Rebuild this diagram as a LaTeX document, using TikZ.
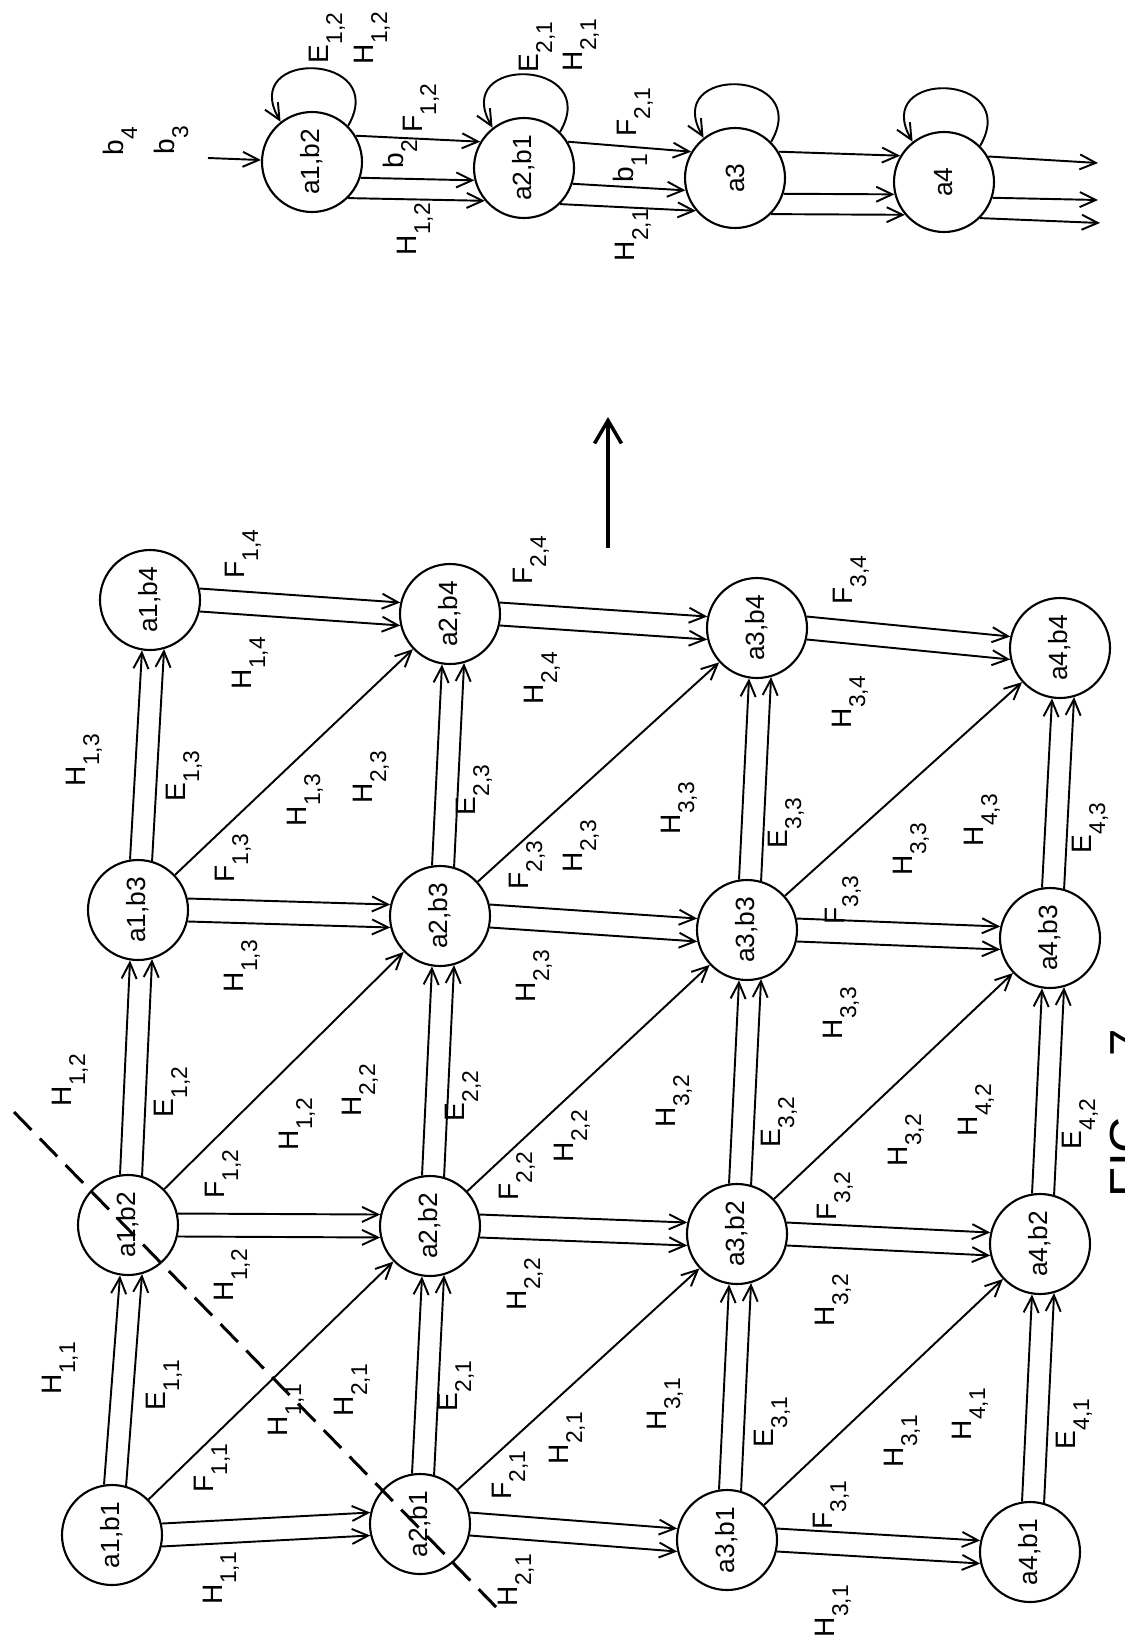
\documentclass[tikz,border=0pt]{standalone}
\usepackage{fontspec}
\setmainfont{Liberation Sans}
\usetikzlibrary{arrows.meta}
\newcommand{\cost}[2]{#1\raisebox{-2.8mm}{\fontsize{13}{15}\selectfont #2}}
\newcommand{\lab}{\fontsize{16}{19}\selectfont}
% double arrows: a_i -> a_i+1 and b_j -> b_j+1
\newcommand{\across}[2]{\draw[arr] (#1.-77) -- (#2.77); \draw[arr] (#1.-103) -- (#2.103);}
\newcommand{\along}[2]{\draw[arr] (#1.9) -- (#2.171); \draw[arr] (#1.-16) -- (#2.-164);}
% three arrows of the reduced chain
\newcommand{\triple}[2]{\draw[arr] (#1.-59) -- (#2.59); \draw[arr] (#1.-108) -- (#2.104); \draw[arr] (#1.-135) -- (#2.130);}
\newcommand{\selfloop}[1]{\draw[arr] (#1.-45) .. controls +(60:85) and +(120:85) .. (#1.38);}

\begin{document}
\begin{tikzpicture}[x=0.2mm, y=0.2mm,
    state/.style={circle, draw, line width=1.2pt, minimum size=20mm, inner sep=0pt, rotate=90,
      font=\fontsize{15}{18}\selectfont},
    tag/.style={rotate=90, inner sep=1pt, font=\lab},
    arr/.style={-{Straight Barb[length=3.2mm,width=3mm]}, line width=1.1pt},
    cut/.style={line width=1.7pt, dash pattern=on 5mm off 2.4mm}]
  \path[use as bounding box, fill=white] (0,0) rectangle (1124,-1643);

  % Define nodes
  \node[state] (a1b1) at (112,-1535) {a1,b1};
  \node[state] (a2b1) at (420,-1524) {a2,b1};
  \node[state] (a3b1) at (727,-1540) {a3,b1};
  \node[state] (a4b1) at (1030,-1552) {a4,b1};
  \node[state] (a1b2) at (128,-1225) {a1,b2};
  \node[state] (a2b2) at (430,-1226) {a2,b2};
  \node[state] (a3b2) at (737,-1234) {a3,b2};
  \node[state] (a4b2) at (1040,-1244) {a4,b2};
  \node[state] (a1b3) at (138,-910) {a1,b3};
  \node[state] (a2b3) at (440,-916) {a2,b3};
  \node[state] (a3b3) at (747,-930) {a3,b3};
  \node[state] (a4b3) at (1050,-938) {a4,b3};
  \node[state] (a1b4) at (150,-600) {a1,b4};
  \node[state] (a2b4) at (450,-614) {a2,b4};
  \node[state] (a3b4) at (757,-628) {a3,b4};
  \node[state] (a4b4) at (1060,-648) {a4,b4};

  \node[state] (p1) at (312,-162) {a1,b2};
  \node[state] (p2) at (524,-168) {a2,b1};
  \node[state] (p3) at (735,-178) {a3};
  \node[state] (p4) at (944,-182) {a4};

  \coordinate (in) at (208,-158);
  \coordinate (out1) at (1098,-163);
  \coordinate (out2) at (1098,-200);
  \coordinate (out3) at (1100,-223);
  \coordinate (cutA) at (14,-1112);
  \coordinate (cutB) at (497,-1608);
  \coordinate (dirA) at (608,-548);
  \coordinate (dirB) at (608,-417);

  % Connect the nodes
  \across{a1b1}{a2b1} \across{a2b1}{a3b1} \across{a3b1}{a4b1}
  \across{a1b2}{a2b2} \across{a2b2}{a3b2} \across{a3b2}{a4b2}
  \across{a1b3}{a2b3} \across{a2b3}{a3b3} \across{a3b3}{a4b3}
  \across{a1b4}{a2b4} \across{a2b4}{a3b4} \across{a3b4}{a4b4}
  \along{a1b1}{a1b2} \along{a1b2}{a1b3} \along{a1b3}{a1b4}
  \along{a2b1}{a2b2} \along{a2b2}{a2b3} \along{a2b3}{a2b4}
  \along{a3b1}{a3b2} \along{a3b2}{a3b3} \along{a3b3}{a3b4}
  \along{a4b1}{a4b2} \along{a4b2}{a4b3} \along{a4b3}{a4b4}
  \draw[arr] (a1b1) -- (a2b2);
  \draw[arr] (a1b2) -- (a2b3);
  \draw[arr] (a1b3) -- (a2b4);
  \draw[arr] (a2b1) -- (a3b2);
  \draw[arr] (a2b2) -- (a3b3);
  \draw[arr] (a2b3) -- (a3b4);
  \draw[arr] (a3b1) -- (a4b2);
  \draw[arr] (a3b2) -- (a4b3);
  \draw[arr] (a3b3) -- (a4b4);

  \draw[arr] (in) -- (p1);
  \triple{p1}{p2} \triple{p2}{p3} \triple{p3}{p4}
  \draw[arr] (p4.-60) -- (out1);
  \draw[arr] (p4.-108) -- (out2);
  \draw[arr] (p4.-135) -- (out3);
  \selfloop{p1} \selfloop{p2} \selfloop{p3} \selfloop{p4}

  \draw[cut] (cutA) -- (cutB);
  \draw[-{Straight Barb[length=4.6mm,width=5.4mm]}, line width=2pt] (dirA) -- (dirB);

  % Labels
  \node[tag] (rb4) at (120,-141) {\cost{b}{4}};
  \node[tag] (rb3) at (171,-140) {\cost{b}{3}};
  \node[tag] (rE12) at (327,-38) {\cost{E}{1,2}};
  \node[tag] (rH12a) at (372,-38) {\cost{H}{1,2}};
  \node[tag] (rF12) at (421,-108) {\cost{F}{1,2}};
  \node[tag] (rb2) at (400,-154) {\cost{b}{2}};
  \node[tag] (rH12b) at (415,-229) {\cost{H}{1,2}};
  \node[tag] (rE21) at (537,-47) {\cost{E}{2,1}};
  \node[tag] (rH21a) at (581,-45) {\cost{H}{2,1}};
  \node[tag] (rF21) at (635,-112) {\cost{F}{2,1}};
  \node[tag] (rb1) at (630,-168) {\cost{b}{1}};
  \node[tag] (rH21b) at (633,-235) {\cost{H}{2,1}};

  \node[tag] (h11a) at (221,-1578) {\cost{H}{1,1}};
  \node[tag] (f11) at (212,-1468) {\cost{F}{1,1}};
  \node[tag] (h11b) at (60,-1368) {\cost{H}{1,1}};
  \node[tag] (e11) at (164,-1385) {\cost{E}{1,1}};
  \node[tag] (h11c) at (286,-1410) {\cost{H}{1,1}};
  \node[tag] (h21a) at (352,-1390) {\cost{H}{2,1}};
  \node[tag] (e21) at (456,-1386) {\cost{E}{2,1}};
  \node[tag] (f21) at (510,-1475) {\cost{F}{2,1}};
  \node[tag] (h21b) at (516,-1580) {\cost{H}{2,1}};
  \node[tag] (h21c) at (567,-1438) {\cost{H}{2,1}};
  \node[tag] (h31a) at (665,-1404) {\cost{H}{3,1}};
  \node[tag] (e31) at (772,-1422) {\cost{E}{3,1}};
  \node[tag] (f31) at (831,-1505) {\cost{F}{3,1}};
  \node[tag] (h31b) at (833,-1611) {\cost{H}{3,1}};
  \node[tag] (h31c) at (902,-1441) {\cost{H}{3,1}};
  \node[tag] (h41) at (970,-1414) {\cost{H}{4,1}};
  \node[tag] (e41) at (1074,-1424) {\cost{E}{4,1}};

  \node[tag] (h12a) at (70,-1080) {\cost{H}{1,2}};
  \node[tag] (e12) at (172,-1092) {\cost{E}{1,2}};
  \node[tag] (f12) at (223,-1174) {\cost{F}{1,2}};
  \node[tag] (h12b) at (232,-1275) {\cost{H}{1,2}};
  \node[tag] (h12c) at (297,-1124) {\cost{H}{1,2}};
  \node[tag] (h22a) at (360,-1090) {\cost{H}{2,2}};
  \node[tag] (e22) at (463,-1096) {\cost{E}{2,2}};
  \node[tag] (f22) at (517,-1176) {\cost{F}{2,2}};
  \node[tag] (h22b) at (525,-1284) {\cost{H}{2,2}};
  \node[tag] (h22c) at (572,-1136) {\cost{H}{2,2}};
  \node[tag] (h32a) at (674,-1101) {\cost{H}{3,2}};
  \node[tag] (e32) at (779,-1122) {\cost{E}{3,2}};
  \node[tag] (f32) at (835,-1196) {\cost{F}{3,2}};
  \node[tag] (h32b) at (833,-1300) {\cost{H}{3,2}};
  \node[tag] (h32c) at (906,-1140) {\cost{H}{3,2}};
  \node[tag] (h42) at (976,-1110) {\cost{H}{4,2}};
  \node[tag] (e42) at (1080,-1124) {\cost{E}{4,2}};

  \node[tag] (h13a) at (84,-760) {\cost{H}{1,3}};
  \node[tag] (e13) at (184,-776) {\cost{E}{1,3}};
  \node[tag] (f13) at (233,-858) {\cost{F}{1,3}};
  \node[tag] (h13b) at (242,-966) {\cost{H}{1,3}};
  \node[tag] (h13c) at (305,-800) {\cost{H}{1,3}};
  \node[tag] (h23a) at (371,-777) {\cost{H}{2,3}};
  \node[tag] (e23) at (474,-790) {\cost{E}{2,3}};
  \node[tag] (f23) at (527,-865) {\cost{F}{2,3}};
  \node[tag] (h23b) at (534,-976) {\cost{H}{2,3}};
  \node[tag] (h23c) at (581,-846) {\cost{H}{2,3}};
  \node[tag] (h33a) at (679,-808) {\cost{H}{3,3}};
  \node[tag] (e33) at (786,-823) {\cost{E}{3,3}};
  \node[tag] (f33) at (843,-900) {\cost{F}{3,3}};
  \node[tag] (h33b) at (841,-1013) {\cost{H}{3,3}};
  \node[tag] (h33c) at (911,-849) {\cost{H}{3,3}};
  \node[tag] (h43) at (982,-820) {\cost{H}{4,3}};
  \node[tag] (e43) at (1090,-828) {\cost{E}{4,3}};

  \node[tag] (f14) at (243,-554) {\cost{F}{1,4}};
  \node[tag] (h14) at (250,-663) {\cost{H}{1,4}};
  \node[tag] (f24) at (531,-560) {\cost{F}{2,4}};
  \node[tag] (h24) at (542,-678) {\cost{H}{2,4}};
  \node[tag] (f34) at (851,-580) {\cost{F}{3,4}};
  \node[tag] (h34) at (850,-702) {\cost{H}{3,4}};

  \node[tag, font=\fontsize{28}{30}\selectfont] (fig) at (1128,-1113) {FIG.\hspace{9mm}7};
\end{tikzpicture}
\end{document}
